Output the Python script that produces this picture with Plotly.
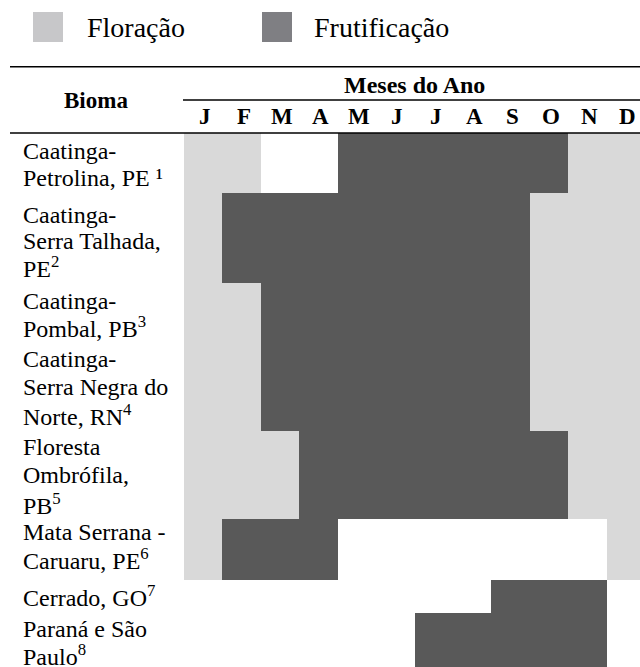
import plotly.graph_objects as go

# ---------------- data ----------------
meses = ["J", "F", "M", "A", "M", "J", "J", "A", "S", "O", "N", "D"]

biomas = [
    ["Caatinga-", "Petrolina, PE \u00b9"],
    ["Caatinga-", "Serra Talhada,", "PE<sup>2</sup>"],
    ["Caatinga-", "Pombal, PB<sup>3</sup>"],
    ["Caatinga-", "Serra Negra do", "Norte, RN<sup>4</sup>"],
    ["Floresta", "Ombrófila,", "PB<sup>5</sup>"],
    ["Mata Serrana -", "Caruaru, PE<sup>6</sup>"],
    ["Cerrado, GO<sup>7</sup>"],
    ["Paraná e São", "Paulo<sup>8</sup>"],
]

# 1 = month with flowering (Floração) visible
floracao = [
    [1, 1, 0, 0, 0, 0, 0, 0, 0, 0, 1, 1],
    [1, 0, 0, 0, 0, 0, 0, 0, 0, 1, 1, 1],
    [1, 1, 0, 0, 0, 0, 0, 0, 0, 1, 1, 1],
    [1, 1, 0, 0, 0, 0, 0, 0, 0, 1, 1, 1],
    [1, 1, 1, 0, 0, 0, 0, 0, 0, 0, 1, 1],
    [1, 0, 0, 0, 0, 0, 0, 0, 0, 0, 0, 1],
    [0, 0, 0, 0, 0, 0, 0, 0, 0, 0, 0, 0],
    [0, 0, 0, 0, 0, 0, 0, 0, 0, 0, 0, 0],
]
# 1 = month with fruiting (Frutificação)
frutificacao = [
    [0, 0, 0, 0, 1, 1, 1, 1, 1, 1, 0, 0],
    [0, 1, 1, 1, 1, 1, 1, 1, 1, 0, 0, 0],
    [0, 0, 1, 1, 1, 1, 1, 1, 1, 0, 0, 0],
    [0, 0, 1, 1, 1, 1, 1, 1, 1, 0, 0, 0],
    [0, 0, 0, 1, 1, 1, 1, 1, 1, 1, 0, 0],
    [0, 1, 1, 1, 0, 0, 0, 0, 0, 0, 0, 0],
    [0, 0, 0, 0, 0, 0, 0, 0, 1, 1, 1, 0],
    [0, 0, 0, 0, 0, 0, 1, 1, 1, 1, 1, 0],
]

# ---------------- layout constants ----------------
W, H = 640, 667
FONT = "Liberation Serif"
C_FLOR = "#d9d9d9"
C_FRUT = "#595959"
C_FLOR_LEG = "#c7c7c9"
C_FRUT_LEG = "#7f7f83"

TABLE_TOP = 133          # px
COL_LEFT = 184           # px
COL_W = 38.42            # px per month column
ROW_H = [60, 90, 59, 89, 88, 61, 33, 60]   # px per row (layout)
LINE_BASE = [[159, 186], [223, 249, 275], [309, 335], [367, 395, 423],
             [455, 483, 512], [540, 567], [604], [637, 663]]  # px baselines


def px(x):
    return x / W


def py(y):
    return 1 - y / H


# matrix for heatmap
z = []
for fl, fr in zip(floracao, frutificacao):
    row = []
    for a, b in zip(fl, fr):
        if b:
            row.append(2)
        elif a:
            row.append(1)
        else:
            row.append(None)
    z.append(row)

x_edges = list(range(len(meses) + 1))
y_edges = [0]
for h in ROW_H:
    y_edges.append(y_edges[-1] + h)

fig = go.Figure()
fig.add_trace(go.Heatmap(
    z=z, x=x_edges, y=y_edges,
    zmin=1, zmax=2,
    colorscale=[[0, C_FLOR], [0.5, C_FLOR], [0.5, C_FRUT], [1, C_FRUT]],
    showscale=False, hoverinfo="skip", xgap=0, ygap=0,
))

plot_h = H - TABLE_TOP
fig.update_layout(
    width=W, height=H,
    margin=dict(l=0, r=0, t=0, b=0),
    paper_bgcolor="white", plot_bgcolor="white",
    showlegend=False,
    xaxis=dict(domain=[px(COL_LEFT), 1], range=[0, (W - COL_LEFT) / COL_W],
               visible=False, fixedrange=True),
    yaxis=dict(domain=[0, py(TABLE_TOP)], range=[plot_h, 0],
               visible=False, fixedrange=True),
    font=dict(family=FONT, color="black"),
)

shapes = []
annotations = []

# legend
for (x0, col, label, tx) in [(33, C_FLOR_LEG, "Floração", 85),
                             (262, C_FRUT_LEG, "Frutificação", 312)]:
    shapes.append(dict(type="rect", xref="paper", yref="paper",
                       x0=px(x0), x1=px(x0 + 30), y0=py(42), y1=py(12),
                       fillcolor=col, line=dict(width=0)))
    annotations.append(dict(text=label, xref="paper", yref="paper",
                            x=px(tx), y=py(27), xanchor="left", yanchor="middle",
                            showarrow=False, font=dict(size=28, family=FONT)))

# rules
for (x0, y) in [(10, 66.7), (183, 100), (10, 133)]:
    shapes.append(dict(type="line", xref="paper", yref="paper",
                       x0=px(x0), x1=1, y0=py(y), y1=py(y),
                       line=dict(color="black", width=1.4)))

# headers
annotations.append(dict(text="<b>Bioma</b>", xref="paper", yref="paper",
                        x=px(96), y=py(100), xanchor="center", yanchor="middle",
                        showarrow=False, font=dict(size=23, family=FONT)))
annotations.append(dict(text="<b>Meses do Ano</b>", xref="paper", yref="paper",
                        x=px(414), y=py(85), xanchor="center", yanchor="middle",
                        showarrow=False, font=dict(size=24, family=FONT)))
for i, m in enumerate(meses):
    annotations.append(dict(text="<b>%s</b>" % m, xref="x", yref="paper",
                            x=i + 0.55, y=py(117), xanchor="center", yanchor="middle",
                            showarrow=False, font=dict(size=23, family=FONT)))

# row labels
for lines, bases in zip(biomas, LINE_BASE):
    for t, b in zip(lines, bases):
        annotations.append(dict(text=t, xref="paper", yref="paper",
                                x=px(21), y=py(b - 8), xanchor="left", yanchor="middle",
                                showarrow=False,
                                font=dict(size=24, family=FONT)))

fig.update_layout(shapes=shapes, annotations=annotations)
fig.write_html(
    "out.html",
    config={"displayModeBar": False},
    post_script="document.body.style.margin='0';document.body.style.overflow='hidden';",
)
